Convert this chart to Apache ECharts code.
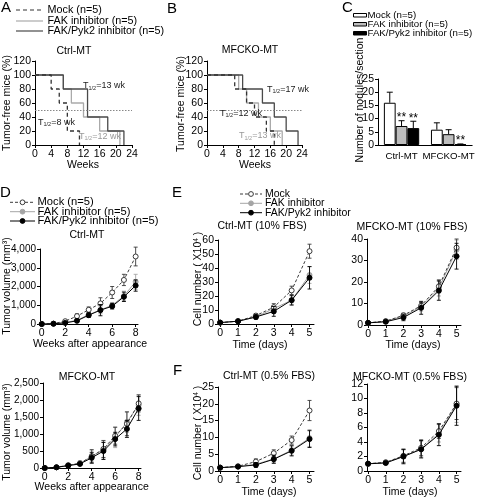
<!DOCTYPE html>
<html><head><meta charset="utf-8">
<script src="https://cdn.jsdelivr.net/npm/echarts@6/dist/echarts.min.js"></script>
<style>html,body{margin:0;padding:0;background:#fff}#c{width:477px;height:498px}</style>
</head><body><div id="c"></div><script>
// ===================== DATA =====================
// Panel A: Ctrl-MT, tumor-free mice (%) vs weeks (step curves)
const kmWeeksCtrlMock = [0, 4, 6, 8, 11];
const kmSurvCtrlMock  = [100, 80, 60, 20, 0];
const kmWeeksCtrlFak  = [0, 7, 9, 12, 16, 21];
const kmSurvCtrlFak   = [100, 80, 60, 40, 20, 0];
const kmWeeksCtrlPyk  = [0, 7, 13, 18, 22];
const kmSurvCtrlPyk   = [100, 80, 40, 20, 0];
// Panel B: MFCKO-MT
const kmWeeksMfMock = [0, 7, 10, 12, 15, 17];
const kmSurvMfMock  = [100, 80, 60, 40, 20, 0];
const kmWeeksMfFak  = [0, 8, 10, 13, 16, 19];
const kmSurvMfFak   = [100, 80, 60, 40, 20, 0];
const kmWeeksMfPyk  = [0, 9, 14, 17, 20, 23];
const kmSurvMfPyk   = [100, 80, 60, 40, 20, 0];
// Panel C: nodules/section
const cCategories = ['Ctrl-MT', 'MFCKO-MT'];
const cMock = [16, 5.8],  cMockErr = [4, 2.6],  cMockSig = ['', ''];
const cFak  = [7.2, 4.1], cFakErr  = [2, 1.7],  cFakSig  = ['**', ''];
const cPyk  = [6.4, 0.3], cPykErr  = [2.6, 0.1], cPykSig = ['**', '**'];
// Panel D: tumor volume (mm3) vs weeks after appearance
const weeksD = [0, 1, 2, 3, 4, 5, 6, 7, 8];
const dCtrlMock = [0, 20, 150, 420, 760, 1100, 1680, 2350, 3600];
const dCtrlMockErr = [0, 10, 60, 120, 150, 300, 320, 300, 500];
const dCtrlFak = [0, 15, 80, 200, 500, 750, 1000, 1500, 2250];
const dCtrlFakErr = [0, 10, 40, 80, 120, 200, 150, 250, 400];
const dCtrlPyk = [0, 15, 60, 170, 470, 740, 950, 1450, 2050];
const dCtrlPykErr = [0, 10, 30, 80, 120, 300, 150, 250, 300];
const dMfMock = [0, 20, 80, 140, 340, 560, 950, 1300, 1900];
const dMfMockErr = [0, 10, 30, 60, 200, 250, 250, 350, 250];
const dMfFak = [0, 20, 80, 130, 350, 540, 900, 1350, 1850];
const dMfFakErr = [0, 10, 30, 50, 150, 250, 300, 300, 300];
const dMfPyk = [0, 20, 70, 120, 300, 500, 850, 1150, 1750];
const dMfPykErr = [0, 10, 30, 40, 150, 250, 200, 250, 350];
// Panels E/F: cell number (x10^4) vs days
const daysEF = [0, 1, 2, 3, 4, 5];
const eCtrlMock = [1, 2, 6, 12, 24, 52],    eCtrlMockErr = [0.3, 0.5, 1.5, 2.5, 3, 5];
const eCtrlFak  = [1, 2, 5, 11, 17, 35],    eCtrlFakErr  = [0.3, 0.5, 1, 2, 3, 6];
const eCtrlPyk  = [1, 2, 5, 9, 17, 33],     eCtrlPykErr  = [0.3, 0.5, 1.5, 3.5, 3.5, 8];
const eMfMock = [1, 1.8, 4.5, 9, 18, 36],   eMfMockErr = [0.3, 0.5, 1, 1.5, 3, 4];
const eMfFak  = [1, 1.7, 4.2, 8.5, 17, 35], eMfFakErr  = [0.3, 0.5, 1, 2, 3.5, 4.5];
const eMfPyk  = [1, 1.5, 3.5, 8, 16, 32],   eMfPykErr  = [0.3, 0.5, 1.5, 3, 4.5, 6];
const fCtrlMock = [1, 1.4, 2.8, 5.3, 9.2, 18], fCtrlMockErr = [0.1, 0.2, 0.8, 1, 1.2, 3];
const fCtrlFak  = [1, 1.3, 2, 3.6, 6.2, 9.8],  fCtrlFakErr  = [0.1, 0.2, 0.6, 1.2, 1.5, 2.5];
const fCtrlPyk  = [1, 1.3, 1.8, 3.5, 6, 9.5],  fCtrlPykErr  = [0.1, 0.2, 0.7, 1.2, 1.5, 2.5];
const fMfMock = [1, 1.2, 2.1, 3.2, 5.5, 9.3], fMfMockErr = [0.1, 0.2, 0.9, 1.1, 1, 2.2];
const fMfFak  = [1, 1.2, 2, 3, 5.2, 9.2],     fMfFakErr  = [0.1, 0.2, 0.9, 1.1, 1.2, 2.5];
const fMfPyk  = [1, 1.1, 2, 3, 5, 9],         fMfPykErr  = [0.1, 0.2, 1, 1.2, 1.5, 2.7];
// tick values
const ticksWeeksD = [0, 2, 4, 6, 8];
const ticksDays = [0, 1, 2, 3, 4, 5];

// ===================== STYLE / BUILD =====================
const FONT = '"Liberation Sans", Arial, Helvetica, sans-serif';
const COL_MOCK = '#3a3a3a', COL_FAK = '#a5a5a5', COL_PYK = '#000';
const KM_MOCK = '#333', KM_FAK = '#aaa', KM_PYK = '#4a4a4a';
const BAR_FRAC = 0.25;

const grids = [
  {left: 35, top: 61, width: 97, height: 84},   // A
  {left: 207, top: 61, width: 95, height: 84},  // B
  {left: 378, top: 79, width: 97, height: 66},  // C
  {left: 40, top: 249, width: 98, height: 75},  // D1
  {left: 43, top: 383, width: 98, height: 85},  // D2
  {left: 218, top: 240, width: 96, height: 84}, // E1
  {left: 367, top: 239, width: 94, height: 86}, // E2
  {left: 218, top: 387, width: 96, height: 84}, // F1
  {left: 367, top: 384, width: 94, height: 87}  // F2
];

function axBase(gi, fs) {
  return {
    gridIndex: gi,
    axisLine: {show: true, onZero: false, lineStyle: {color: '#000', width: 1}},
    axisTick: {show: true, inside: false, length: 3, lineStyle: {color: '#000', width: 1}},
    axisLabel: {color: '#000', fontSize: fs || 10, fontFamily: FONT, margin: 4},
    splitLine: {show: false}
  };
}
function xVal(gi, min, max, interval, custom, fs) {
  const a = Object.assign(axBase(gi, fs), {type: 'value', min, max});
  if (interval) a.interval = interval;
  if (custom) { a.axisTick.customValues = custom; a.axisLabel.customValues = custom; }
  return a;
}
function yVal(gi, max, interval, fs) {
  return Object.assign(axBase(gi, fs), {type: 'value', min: 0, max, interval});
}

const xC = axBase(2, 9.7);
xC.type = 'category'; xC.data = cCategories; xC.axisTick = {show: false};
xC.axisLabel.interval = 0; xC.axisLabel.margin = 6; xC.axisLabel.hideOverlap = false;
const xAxes = [
  xVal(0, 0, 24, 4, null, 10.5),
  xVal(1, 0, 24, 4, null, 10.5),
  xC,
  xVal(3, -0.15, 8.2, null, ticksWeeksD, 10.5),
  xVal(4, -0.15, 8.2, null, ticksWeeksD, 10.5),
  xVal(5, -0.12, 5.25, null, ticksDays, 10.5),
  xVal(6, -0.06, 5.25, null, ticksDays, 10.5),
  xVal(7, -0.12, 5.25, null, ticksDays, 10.5),
  xVal(8, -0.06, 5.25, null, ticksDays, 10.5)
];
const yAxes = [
  yVal(0, 120, 20, 10.5), yVal(1, 120, 20, 10.5), yVal(2, 25, 5, 10.5),
  yVal(3, 4000, 1000, 10), yVal(4, 2500, 500, 10),
  yVal(5, 60, 10, 10.5), yVal(6, 40, 10, 10.5), yVal(7, 25, 5, 10.5), yVal(8, 12, 2, 10.5)
];

const series = [];
function km(gi, weeks, surv, color, dashed, extra) {
  const s = {
    type: 'line', xAxisIndex: gi, yAxisIndex: gi, step: 'end', symbol: 'none', silent: true,
    data: weeks.map((w, i) => [w, surv[i]]),
    lineStyle: {color, width: 1.3, type: dashed ? [4, 3] : 'solid'}, z: 3
  };
  return Object.assign(s, extra || {});
}
const half = {markLine: {silent: true, symbol: ['none', 'none'], label: {show: false},
  lineStyle: {color: '#888', type: [1.5, 1.5], width: 1}, data: [{yAxis: 50}]}};
series.push(km(0, kmWeeksCtrlFak, kmSurvCtrlFak, KM_FAK, false, half));
series.push(km(0, kmWeeksCtrlPyk, kmSurvCtrlPyk, KM_PYK, false));
series.push(km(0, kmWeeksCtrlMock, kmSurvCtrlMock, KM_MOCK, true));
series.push(km(1, kmWeeksMfFak, kmSurvMfFak, KM_FAK, false, half));
series.push(km(1, kmWeeksMfPyk, kmSurvMfPyk, KM_PYK, false));
series.push(km(1, kmWeeksMfMock, kmSurvMfMock, KM_MOCK, true));

// Panel C bars
function bar(vals, fill) {
  return {type: 'bar', xAxisIndex: 2, yAxisIndex: 2, data: vals, barWidth: (BAR_FRAC * 100) + '%', barGap: '0%',
    itemStyle: {color: fill, borderColor: '#000', borderWidth: 1}, silent: true};
}
function barErr(vals, errs, sigs, slot) {
  return {type: 'custom', xAxisIndex: 2, yAxisIndex: 2, silent: true, clip: false, z: 5,
    data: vals.map((v, i) => [i, v, errs[i]]),
    renderItem: function (params, api) {
      const i = api.value(0), v = api.value(1), e = api.value(2);
      const band = api.size([1, 0])[0];
      const w = band * BAR_FRAC;
      const b = api.coord([i, v]), t = api.coord([i, v + e]);
      const cx = b[0] + (slot - 1) * w;
      const ch = [
        {type: 'line', shape: {x1: cx, y1: b[1], x2: cx, y2: t[1]}, style: {stroke: '#000', lineWidth: 1}},
        {type: 'line', shape: {x1: cx - 3, y1: t[1], x2: cx + 3, y2: t[1]}, style: {stroke: '#000', lineWidth: 1}}
      ];
      const sg = sigs[params.dataIndex];
      if (sg) ch.push({type: 'text', x: cx, y: t[1] + 3, style: {text: sg, fontSize: 12, fontFamily: FONT,
        fill: '#000', align: 'center', verticalAlign: 'bottom'}});
      return {type: 'group', children: ch};
    }};
}
series.push(bar(cMock, '#fff'), bar(cFak, '#bdbdbd'), bar(cPyk, '#000'));
series.push(barErr(cMock, cMockErr, cMockSig, 0), barErr(cFak, cFakErr, cFakSig, 1), barErr(cPyk, cPykErr, cPykSig, 2));

// growth curves with error bars
function growth(gi, xs, ys, errs, kind) {
  const col = kind === 'mock' ? COL_MOCK : kind === 'fak' ? COL_FAK : COL_PYK;
  const z = kind === 'mock' ? 4 : kind === 'fak' ? 3 : 5;
  series.push({type: 'custom', xAxisIndex: gi, yAxisIndex: gi, silent: true, clip: false, z: z - 0.5,
    data: xs.map((x, i) => [x, ys[i], errs[i]]),
    renderItem: function (params, api) {
      const x = api.value(0), y = api.value(1), e = api.value(2);
      if (!e) return null;
      const t = api.coord([x, y + e]), b = api.coord([x, Math.max(0, y - e)]);
      const st = {stroke: col, lineWidth: 0.9};
      return {type: 'group', children: [
        {type: 'line', shape: {x1: t[0], y1: t[1], x2: b[0], y2: b[1]}, style: st},
        {type: 'line', shape: {x1: t[0] - 2, y1: t[1], x2: t[0] + 2, y2: t[1]}, style: st},
        {type: 'line', shape: {x1: b[0] - 2, y1: b[1], x2: b[0] + 2, y2: b[1]}, style: st}
      ]};
    }});
  series.push({type: 'line', xAxisIndex: gi, yAxisIndex: gi, silent: true, z,
    data: xs.map((x, i) => [x, ys[i]]), symbol: 'circle', symbolSize: 5, showSymbol: true,
    lineStyle: {color: col, width: 1, type: kind === 'mock' ? [3, 2] : 'solid'},
    itemStyle: {color: kind === 'mock' ? '#fff' : col, borderColor: col, borderWidth: 1}});
}
growth(3, weeksD, dCtrlFak, dCtrlFakErr, 'fak');
growth(3, weeksD, dCtrlMock, dCtrlMockErr, 'mock');
growth(3, weeksD, dCtrlPyk, dCtrlPykErr, 'pyk');
growth(4, weeksD, dMfFak, dMfFakErr, 'fak');
growth(4, weeksD, dMfMock, dMfMockErr, 'mock');
growth(4, weeksD, dMfPyk, dMfPykErr, 'pyk');
growth(5, daysEF, eCtrlFak, eCtrlFakErr, 'fak');
growth(5, daysEF, eCtrlMock, eCtrlMockErr, 'mock');
growth(5, daysEF, eCtrlPyk, eCtrlPykErr, 'pyk');
growth(6, daysEF, eMfFak, eMfFakErr, 'fak');
growth(6, daysEF, eMfMock, eMfMockErr, 'mock');
growth(6, daysEF, eMfPyk, eMfPykErr, 'pyk');
growth(7, daysEF, fCtrlFak, fCtrlFakErr, 'fak');
growth(7, daysEF, fCtrlMock, fCtrlMockErr, 'mock');
growth(7, daysEF, fCtrlPyk, fCtrlPykErr, 'pyk');
growth(8, daysEF, fMfFak, fMfFakErr, 'fak');
growth(8, daysEF, fMfMock, fMfMockErr, 'mock');
growth(8, daysEF, fMfPyk, fMfPykErr, 'pyk');

// ===================== TEXT / LEGENDS (graphic) =====================
const G = [];
function T(x, y, text, o) {
  o = o || {};
  G.push({type: 'text', x, y, rotation: o.rot || 0, silent: true, z: 10,
    style: {text, fontSize: o.size || 10.5, fontFamily: FONT, fill: o.color || '#000',
      align: o.align || 'left', verticalAlign: o.va || 'middle', rich: o.rich}});
}
function L(x1, y1, x2, y2, color, dash, w) {
  G.push({type: 'line', silent: true, shape: {x1, y1, x2, y2},
    style: {stroke: color, lineWidth: w || 1.2, lineDash: dash || null}});
}
function C(cx, cy, fill, stroke) {
  G.push({type: 'circle', silent: true, shape: {cx, cy, r: 2.4}, style: {fill, stroke, lineWidth: 1}, z: 11});
}
function R(x, y, w, h, fill) {
  G.push({type: 'rect', silent: true, shape: {x, y, width: w, height: h}, style: {fill, stroke: '#000', lineWidth: 1}});
}
const ROT = Math.PI / 2;
// letters
T(1, 8, 'A', {size: 15}); T(167, 9, 'B', {size: 15}); T(342, 8, 'C', {size: 15});
T(0, 193, 'D', {size: 15}); T(172, 193, 'E', {size: 15}); T(173, 371, 'F', {size: 15});
// legend A
L(16, 10, 43, 10, KM_MOCK, [4, 3]); T(47.5, 10, 'Mock (n=5)', {size: 10.8});
L(16, 21, 43, 21, KM_FAK); T(47.5, 21, 'FAK inhibitor (n=5)', {size: 10.8});
L(16, 31, 43, 31, KM_PYK); T(47.5, 31, 'FAK/Pyk2 inhibitor (n=5)', {size: 10.8});
// legend C
R(353.5, 13.5, 13, 3.5, '#fff'); T(367.5, 15, 'Mock (n=5)', {size: 9.7});
R(353.5, 22.5, 13, 3.5, '#bdbdbd'); T(367.5, 24.3, 'FAK inhibitor (n=5)', {size: 9.7});
R(353.5, 31.5, 13, 3.5, '#000'); T(367.5, 33.3, 'FAK/Pyk2 inhibitor (n=5)', {size: 9.7});
// legend D
L(10, 202.3, 35, 202.3, COL_MOCK, [3, 2], 1); C(22.5, 202.3, '#fff', COL_MOCK); T(37.5, 202.3, 'Mock (n=5)', {size: 11.2});
L(10, 211.7, 35, 211.7, COL_FAK, null, 1); C(22.5, 211.7, COL_FAK, COL_FAK); T(37.5, 211.7, 'FAK inhibitor (n=5)', {size: 11.2});
L(10, 221, 35, 221, COL_PYK, null, 1); C(22.5, 221, COL_PYK, COL_PYK); T(37.5, 221, 'FAK/Pyk2 inhibitor (n=5)', {size: 11.2});
// legend E
L(240, 194, 262, 194, COL_MOCK, [3, 2], 1); C(251, 194, '#fff', COL_MOCK); T(265, 194, 'Mock');
L(240, 203.3, 262, 203.3, COL_FAK, null, 1); C(251, 203.3, COL_FAK, COL_FAK); T(265, 203.3, 'FAK inhibitor');
L(240, 212.7, 262, 212.7, COL_PYK, null, 1); C(251, 212.7, COL_PYK, COL_PYK); T(265, 212.7, 'FAK/Pyk2 inhibitor');
// titles
T(74, 51, 'Ctrl-MT', {align: 'center'});
T(250, 50, 'MFCKO-MT', {align: 'center'});
T(87, 235, 'Ctrl-MT', {align: 'center'});
T(87, 376.7, 'MFCKO-MT', {align: 'center'});
T(262, 226, 'Ctrl-MT (10% FBS)', {align: 'center'});
T(412, 227, 'MFCKO-MT (10% FBS)', {align: 'center'});
T(269, 376, 'Ctrl-MT (0.5% FBS)', {align: 'center'});
T(410, 376.7, 'MFCKO-MT (0.5% FBS)', {align: 'center'});
// axis names
T(7.5, 103, 'Tumor-free mice (%)', {align: 'center', rot: ROT});
T(83, 165, 'Weeks', {align: 'center'});
T(181.5, 104, 'Tumor-free mice (%)', {align: 'center', rot: ROT});
T(255, 165, 'Weeks', {align: 'center'});
T(360, 100, 'Number of nodules/section', {align: 'center', rot: ROT});
T(6.7, 286, 'Tumor volume (mm³)', {align: 'center', rot: ROT});
T(90, 344, 'Weeks after appearance', {align: 'center'});
T(6.7, 432, 'Tumor volume (mm³)', {align: 'center', rot: ROT});
T(91.7, 487.3, 'Weeks after appearance', {align: 'center'});
const cellRich = {
  n: {fontSize: 10.5, fontFamily: FONT, color: '#000'},
  s: {fontSize: 6.5, fontFamily: FONT, color: '#000', padding: [0, 0, 5, 0]}
};
T(198.3, 279, '{n|Cell number ( X10}{s|4}{n| )}', {align: 'center', rot: ROT, rich: cellRich});
T(260, 345, 'Time (days)', {align: 'center'});
T(413, 345, 'Time (days)', {align: 'center'});
T(198.3, 433, '{n|Cell number ( X10}{s|4}{n| )}', {align: 'center', rot: ROT, rich: cellRich});
T(269, 492.3, 'Time (days)', {align: 'center'});
T(410, 492.3, 'Time (days)', {align: 'center'});
// T1/2 annotations
function half12(x, y, val, color) {
  T(x, y, '{n|T}{s|1/2}{n|=' + val + ' wk}', {color, rich: {
    n: {fontSize: 9, fontFamily: FONT, color},
    s: {fontSize: 5.5, fontFamily: FONT, color, padding: [4, 0, 0, 0]}
  }});
}
half12(83, 86, '13', '#222');
half12(38, 122.7, '8', '#222');
half12(79, 136.7, '12', '#999');
half12(267, 89.3, '17', '#222');
half12(220, 113.3, '12', '#222');
half12(239, 136, '13', '#999');

const chart = echarts.init(document.getElementById('c'), null, {renderer: 'canvas'});
chart.setOption({
  backgroundColor: '#fff', animation: false,
  grid: grids, xAxis: xAxes, yAxis: yAxes, series, graphic: G
});
</script></body></html>
